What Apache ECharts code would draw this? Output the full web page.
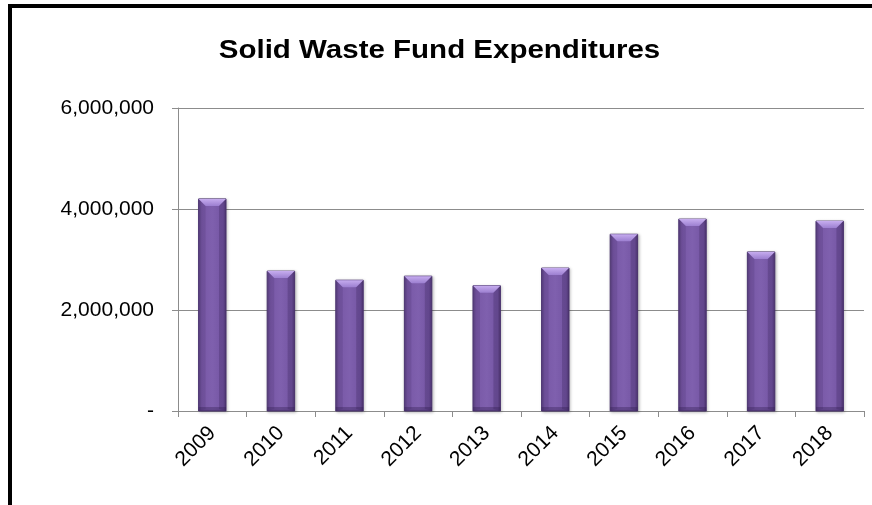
<!DOCTYPE html>
<html>
<head>
<meta charset="utf-8">
<style>
  html, body { margin: 0; padding: 0; background: #fff; }
  #chart { width: 872px; height: 505px; }
</style>
<script src="https://cdn.jsdelivr.net/npm/echarts@6/dist/echarts.min.js"></script>
</head>
<body>
<div id="chart"></div>
<script>
// Fiscal years and annual expenditures of the Solid Waste Fund
const years = ['2009', '2010', '2011', '2012', '2013', '2014', '2015', '2016', '2017', '2018'];
const expenditures = [4200000, 2770000, 2590000, 2670000, 2480000, 2830000, 3500000, 3800000, 3150000, 3760000];
const yTicks = [0, 2000000, 4000000, 6000000];
const chartTitle = 'Solid Waste Fund Expenditures';

const chart = echarts.init(document.getElementById('chart'));

function fmt(v) {
  if (v === 0) return '-';
  return v.toLocaleString('en-US');
}

// Bevelled column: body with a horizontal shade, light top facet and darker rim
function renderBar(params, api) {
  const idx = api.value(0);
  const val = api.value(1);
  const top = api.coord([idx, val]);
  const base = api.coord([idx, 0]);
  const band = api.size([1, 0])[0];
  const w = band * 0.4;
  const x = top[0] - w / 2;
  const y = top[1];
  const h = base[1] - top[1];
  const b = 7;
  return {
    type: 'group',
    children: [
      {
        type: 'rect',
        shape: { x: x, y: y, width: w, height: h },
        style: {
          fill: new echarts.graphic.LinearGradient(0, 0, 1, 0, [
            { offset: 0, color: '#5f4588' },
            { offset: 0.12, color: '#7858a6' },
            { offset: 0.5, color: '#7f60ae' },
            { offset: 0.88, color: '#7455a3' },
            { offset: 1, color: '#553b7a' }
          ]),
          stroke: '#4f3873',
          lineWidth: 1,
          shadowBlur: 3,
          shadowOffsetX: 1,
          shadowOffsetY: 1,
          shadowColor: 'rgba(0,0,0,0.25)'
        }
      },
      {
        type: 'polygon',
        shape: { points: [[x, y], [x + w, y], [x + w - b, y + b], [x + b, y + b]] },
        style: {
          fill: new echarts.graphic.LinearGradient(0, 0, 0, 1, [
            { offset: 0, color: '#c6acef' },
            { offset: 1, color: '#9c7fd0' }
          ])
        }
      },
      {
        type: 'polygon',
        shape: { points: [[x, y], [x + b, y + b], [x + b, base[1] - 2], [x, base[1]]] },
        style: { fill: 'rgba(70,45,105,0.2)' }
      },
      {
        type: 'polygon',
        shape: { points: [[x + w, y], [x + w - b, y + b], [x + w - b, base[1] - 2], [x + w, base[1]]] },
        style: { fill: 'rgba(50,30,80,0.26)' }
      },
      {
        type: 'rect',
        shape: { x: x, y: base[1] - 4, width: w, height: 4 },
        style: { fill: 'rgba(50,30,80,0.35)' }
      }
    ]
  };
}

chart.setOption({
  animation: false,
  backgroundColor: '#fff',
  graphic: [
    {
      // outer frame of the chart
      type: 'rect',
      shape: { x: 10, y: 6, width: 900, height: 560 },
      style: { fill: 'none', stroke: '#000', lineWidth: 4 },
      silent: true
    },
    {
      type: 'text',
      x: 439.5,
      y: 39,
      scaleX: 1.18,
      style: {
        text: chartTitle,
        align: 'center',
        verticalAlign: 'top',
        font: 'bold 25px "Liberation Sans", Arial, sans-serif',
        fill: '#000'
      },
      silent: true
    }
  ],
  grid: { left: 178, right: 8, top: 108, bottom: 94 },
  xAxis: {
    type: 'category',
    data: years,
    axisLine: { lineStyle: { color: '#8c8c8c', width: 1 } },
    axisTick: { show: true, length: 6, alignWithLabel: false, lineStyle: { color: '#8c8c8c' } },
    axisLabel: {
      rotate: 45,
      margin: 19,
      fontFamily: 'Liberation Sans, Arial, sans-serif',
      fontSize: 21,
      color: '#000'
    }
  },
  yAxis: {
    type: 'value',
    min: yTicks[0],
    max: yTicks[yTicks.length - 1],
    interval: yTicks[1] - yTicks[0],
    axisLine: { show: true, lineStyle: { color: '#8c8c8c', width: 1 } },
    axisTick: { show: true, length: 6, lineStyle: { color: '#8c8c8c' } },
    splitLine: { lineStyle: { color: '#8c8c8c', width: 1 } },
    axisLabel: {
      margin: 24,
      formatter: fmt,
      fontFamily: 'Liberation Sans, Arial, sans-serif',
      fontSize: 21,
      color: '#000'
    }
  },
  series: [
    {
      type: 'custom',
      renderItem: renderBar,
      encode: { x: 0, y: 1 },
      data: years.map((y, i) => [i, expenditures[i]])
    }
  ]
});
</script>
</body>
</html>
